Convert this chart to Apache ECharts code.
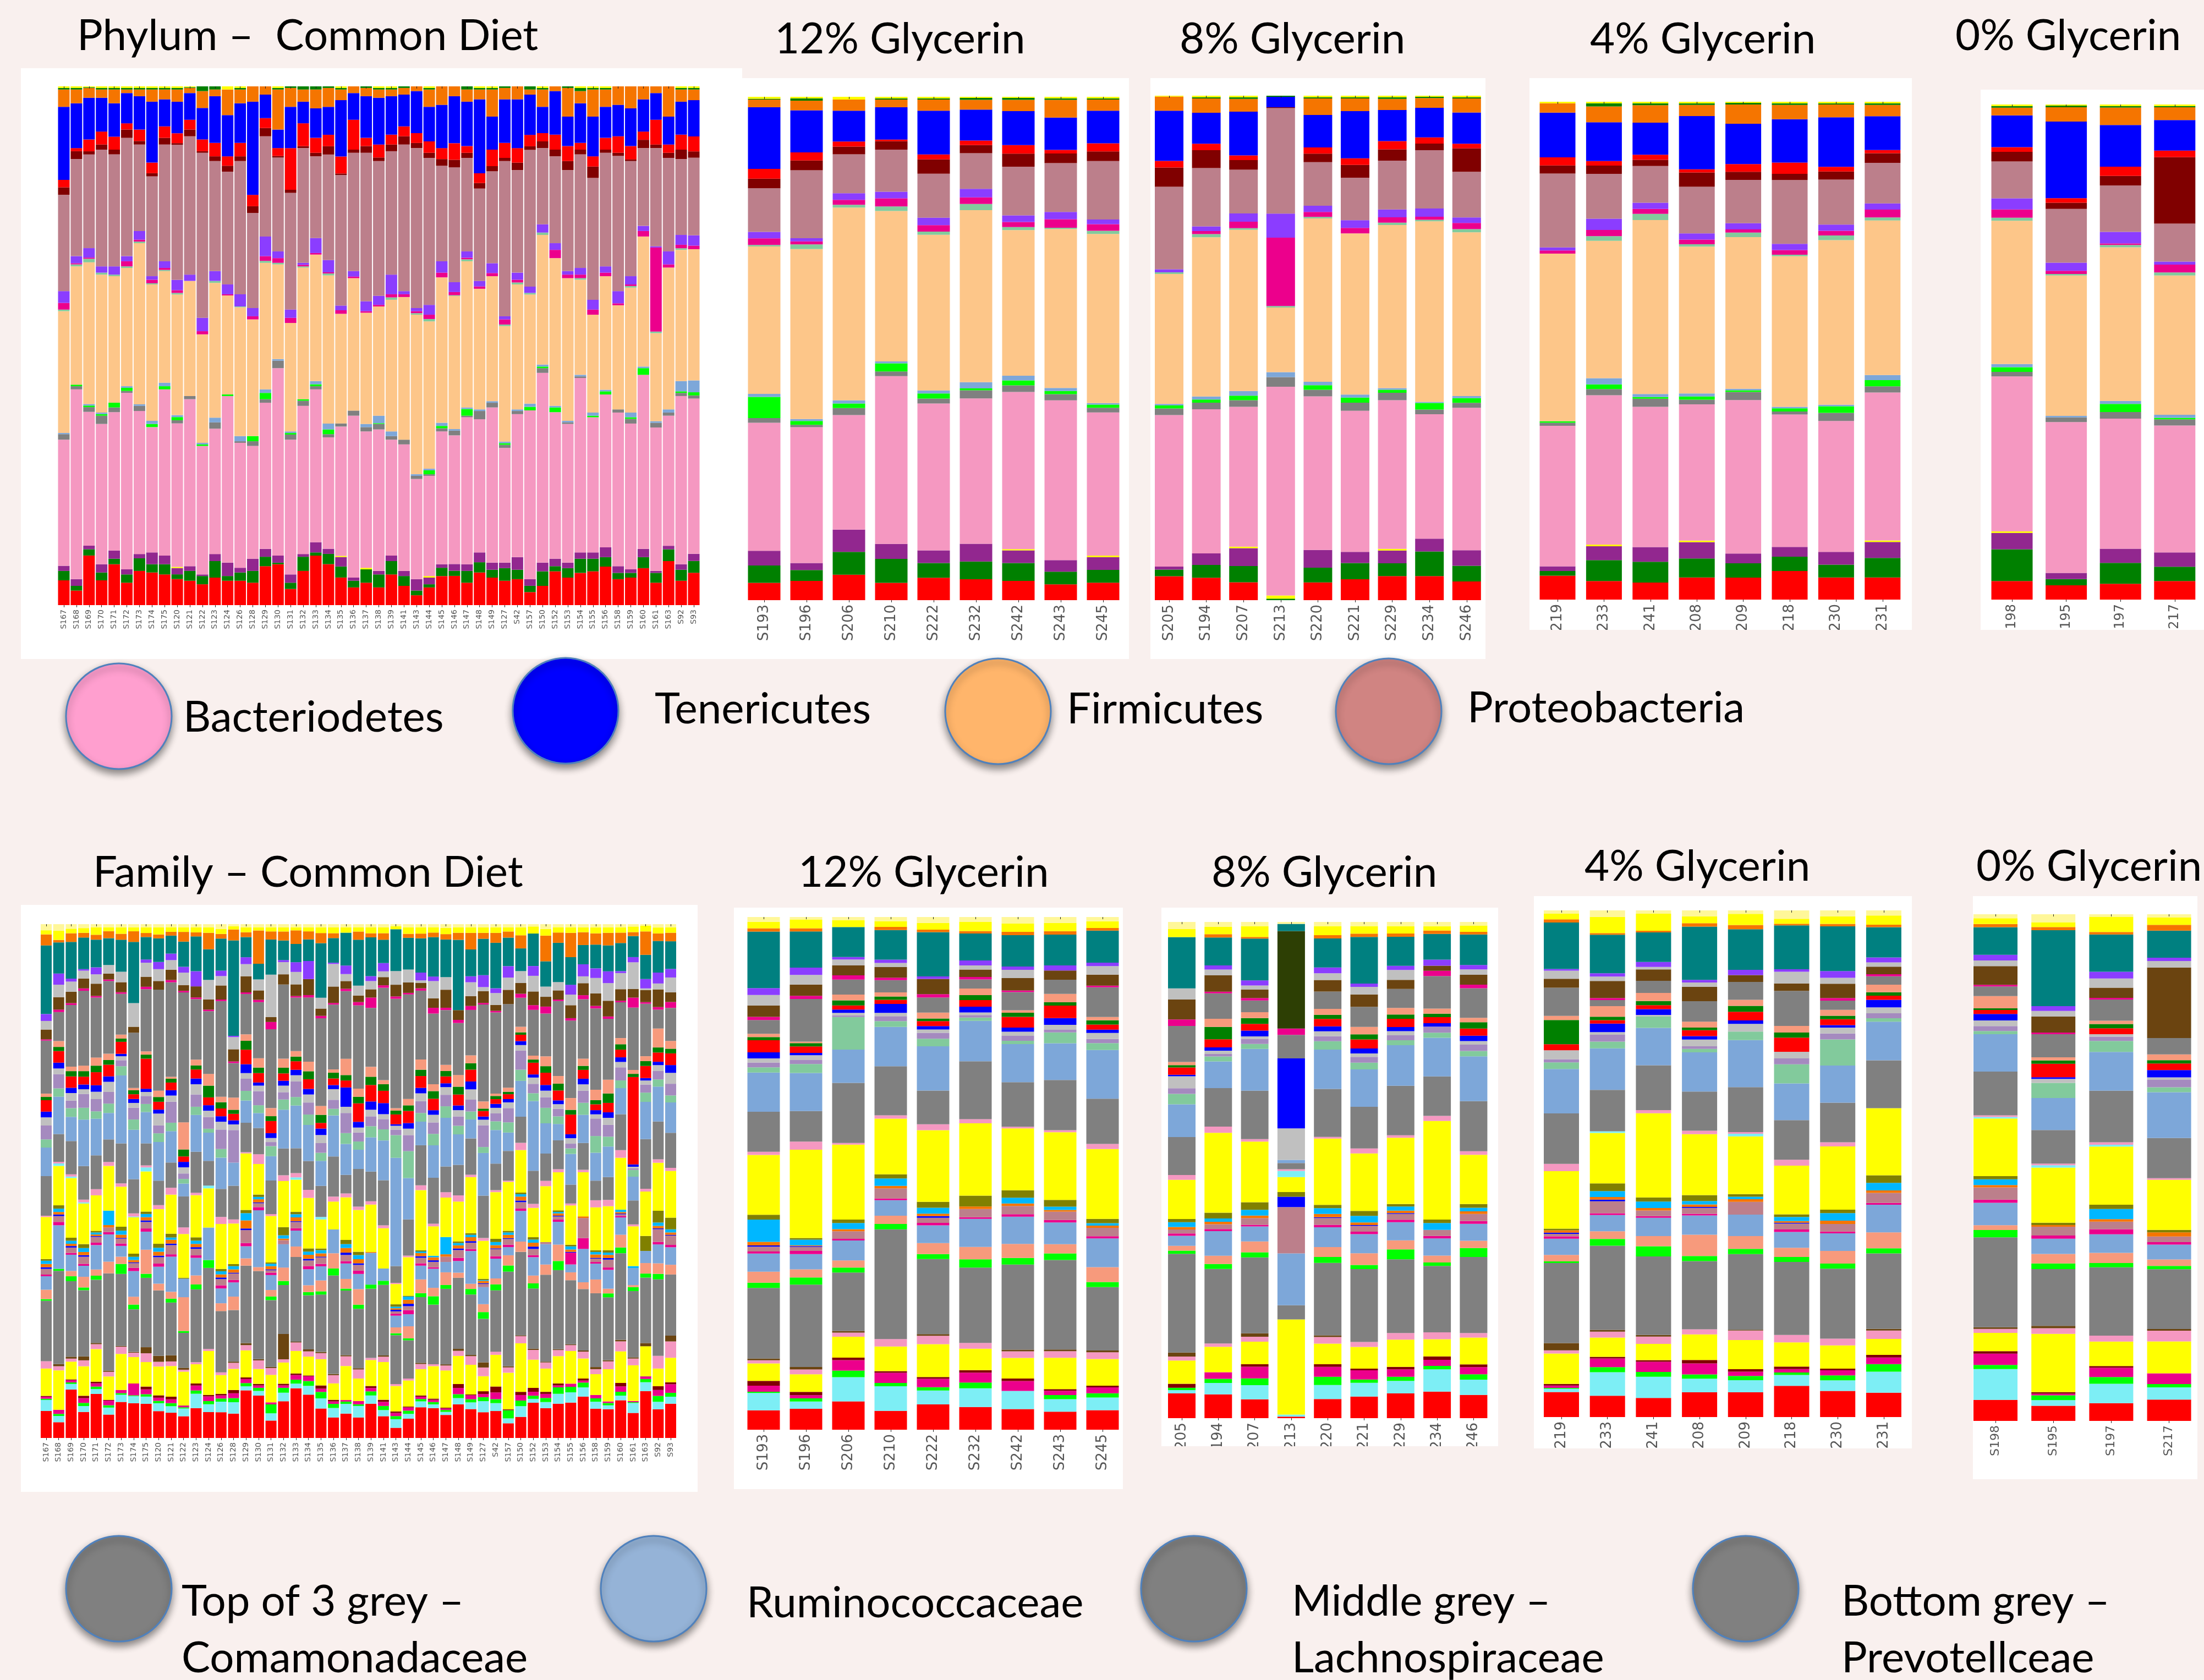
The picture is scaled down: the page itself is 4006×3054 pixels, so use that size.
<!DOCTYPE html>
<html>
<head>
<meta charset="utf-8">
<title>Phylum and Family composition</title>
<script src="https://cdn.jsdelivr.net/npm/echarts@6/dist/echarts.min.js"></script>
<style>
  html, body { margin: 0; padding: 0; background: #f9f0ee; }
  #chart { width: 4006px; height: 3054px; }
</style>
</head>
<body>
<div id="chart"></div>
<script>
// sample labels
const commonSamples = ['S167','S168','S169','S170','S171','S172','S173','S174','S175','S120','S121','S122','S123','S124','S126','S128','S129','S130','S131','S132','S133','S134','S135','S136','S137','S138','S139','S141','S143','S144','S145','S146','S147','S148','S149','S127','S42','S157','S150','S152','S153','S154','S155','S156','S158','S159','S160','S161','S163','S92','S93']
const samples12 = ['S193','S196','S206','S210','S222','S232','S242','S243','S245']
const samples8 = ['S205','S194','S207','S213','S220','S221','S229','S234','S246']
const samples8NoS = ['205','194','207','213','220','221','229','234','246']
const samples4 = ['219','233','241','208','209','218','230','231']
const samples0 = ['S198','S195','S197','S217']

// stack order, bottom to top
const phylumTaxa = ['red','green','purple','yellow','Bacteriodetes','grey','lime','ltblue','Firmicutes','mint','magenta','violet','Proteobacteria','maroon','red2','Tenericutes','orange','green2','yellow2']
const phylumColors = ['#ff0000','#008000','#92278f','#ffff00','#f598c1','#808080','#00ff00','#7da7d9','#fdc689','#82ca9c','#ec008c','#8b3dff','#bc7f8b','#800000','#ff0000','#0000ff','#f57500','#008000','#ffff00']

// one row per sample, relative abundance in phylumTaxa order
const phylumCommon = [
  [63,24,13,0,321,14,0,3,310,4,17,30,245,19,19,186,44,4,4],
  [37,12,17,0,483,8,4,0,301,5,3,18,247,20,8,114,35,4,4],
  [126,16,9,0,340,12,4,4,360,9,3,24,238,8,30,106,25,2,2],
  [63,20,21,0,357,21,4,4,351,5,0,16,297,13,33,86,21,4,4],
  [104,14,21,0,352,12,12,0,322,4,0,21,285,12,33,85,35,4,4],
  [57,21,13,0,449,5,8,4,301,4,13,13,301,21,16,77,9,4,4],
  [87,32,11,0,364,13,0,4,410,4,5,22,220,9,29,85,17,4,4],
  [83,21,30,0,319,0,8,8,347,3,9,9,254,8,27,155,31,4,4],
  [78,26,22,0,423,0,8,9,284,3,5,17,297,17,29,69,25,4,4],
  [66,12,16,3,364,8,8,5,306,4,7,26,343,4,25,80,31,4,4],
  [62,25,12,0,425,8,0,0,293,0,0,16,352,17,25,68,13,2,2],
  [53,21,4,0,327,0,4,4,276,0,8,34,420,4,30,80,43,12,0],
  [70,42,18,0,319,16,0,12,343,5,0,25,280,12,34,119,17,8,0],
  [62,12,34,0,424,0,4,0,252,0,3,25,287,15,24,105,65,0,8],
  [62,21,12,0,318,4,0,13,328,2,0,31,339,12,34,101,35,4,4],
  [57,30,31,0,287,12,13,0,297,0,8,21,242,17,29,237,39,0,0],
  [99,24,20,0,372,9,16,9,322,5,12,50,255,21,25,60,21,0,0],
  [104,4,18,0,477,19,0,4,241,4,12,17,239,4,20,47,102,4,4],
  [41,16,21,0,343,13,4,4,276,0,13,21,297,8,106,105,48,4,0],
  [87,36,7,0,377,13,4,0,335,3,4,5,292,5,58,55,31,8,0],
  [126,8,26,0,389,8,5,8,322,0,4,38,208,9,38,75,48,8,0],
  [104,26,13,0,283,8,12,15,376,5,3,31,268,21,29,71,48,4,0],
  [70,28,24,3,328,8,0,0,278,0,9,12,331,4,43,143,27,4,4],
  [45,17,8,0,412,13,0,0,337,0,4,14,301,8,76,68,17,0,0],
  [57,34,0,4,347,11,0,8,283,0,4,25,378,17,21,106,21,4,0],
  [45,33,9,0,360,14,2,19,278,0,4,23,343,9,33,119,21,4,4],
  [78,34,14,0,295,9,0,12,335,6,8,50,314,17,25,98,17,4,4],
  [49,25,13,0,322,12,0,0,363,0,7,8,373,21,25,81,17,4,0],
  [25,12,29,0,255,8,0,4,406,4,5,8,407,13,25,107,12,0,0],
  [45,8,17,4,255,4,10,4,375,6,11,25,374,13,29,88,44,4,4],
  [74,21,9,0,338,8,6,8,370,0,12,29,243,17,28,110,47,0,0],
  [74,13,17,0,326,12,0,4,337,2,8,25,291,19,42,119,25,0,0],
  [57,30,17,0,374,4,17,4,372,5,4,16,238,13,17,113,31,8,0],
  [83,26,25,0,339,21,0,4,307,0,6,14,235,14,25,188,25,4,4],
  [70,20,18,0,395,12,0,4,318,0,8,25,234,13,42,84,69,4,4],
  [62,32,14,0,292,8,4,4,294,4,13,8,395,8,38,111,29,4,0],
  [66,24,32,0,364,8,0,4,318,5,7,18,261,19,37,124,33,0,0],
  [33,16,17,0,428,0,9,8,277,4,0,16,347,9,29,102,13,8,0],
  [49,37,22,0,483,12,4,5,330,6,0,21,194,17,21,67,44,4,4],
  [86,13,19,0,373,0,12,4,376,0,21,17,221,17,38,111,12,0,0],
  [70,24,14,0,353,4,0,4,363,0,9,9,257,23,38,75,73,4,0],
  [82,36,16,0,444,4,0,4,242,4,9,17,289,12,17,101,31,8,4],
  [86,32,16,0,344,0,4,8,249,0,13,25,310,29,26,101,69,4,4],
  [98,24,25,0,389,0,8,4,289,0,9,16,289,8,30,79,44,4,4],
  [66,16,17,0,391,8,0,0,265,0,5,31,344,8,42,80,47,0,0],
  [70,12,9,0,371,12,4,12,318,4,4,21,293,4,34,96,56,0,0],
  [94,28,21,0,443,0,17,4,331,0,14,13,198,21,21,82,33,0,0],
  [57,25,5,0,365,12,0,4,224,4,214,3,250,9,63,68,17,0,0],
  [112,30,9,0,331,8,0,8,361,0,8,33,238,13,21,71,77,0,0],
  [62,28,14,0,428,8,4,26,334,4,9,25,193,24,38,84,31,4,4],
  [82,30,18,0,394,8,8,30,333,0,9,26,197,16,38,92,27,4,4]
]
const phylum12 = [
  [45,45,38,0,332,12,55,8,382,4,17,17,113,25,25,160,20,2,5],
  [50,28,18,0,352,6,10,5,440,12,8,8,176,25,21,109,25,6,4],
  [66,59,58,0,297,18,12,8,500,7,13,17,101,20,13,80,29,0,7],
  [45,62,39,0,435,12,21,5,390,12,21,17,109,22,4,84,20,3,4],
  [58,38,33,0,380,13,13,8,403,8,17,19,114,37,13,113,29,3,4],
  [54,46,46,0,376,21,5,16,445,16,17,22,92,21,12,80,25,5,3],
  [50,46,33,3,407,17,13,12,377,8,13,17,126,34,22,88,29,5,3],
  [41,33,30,0,415,16,8,8,413,3,22,19,127,25,9,84,46,4,4],
  [45,33,33,4,370,12,8,4,437,8,17,12,151,25,21,84,29,3,4]
]
const phylum8 = [
  [62,17,8,0,393,17,8,4,337,4,0,8,214,50,17,130,37,0,2],
  [58,33,30,0,373,17,8,8,412,8,8,12,151,46,17,80,37,3,4],
  [46,42,46,4,361,17,12,12,416,4,17,21,113,25,12,113,33,4,4],
  [0,4,0,8,540,25,0,13,167,4,177,62,273,2,0,27,0,3,0],
  [46,38,46,0,398,17,12,9,423,4,13,16,113,22,16,84,43,3,4],
  [54,42,29,0,365,21,13,8,417,0,14,20,110,33,17,122,33,3,4],
  [62,33,33,4,383,19,8,4,420,6,14,20,126,29,21,80,29,4,4],
  [62,63,33,0,320,12,17,3,464,4,8,21,150,17,16,76,25,3,3],
  [48,40,40,0,365,13,12,5,420,8,16,14,117,60,12,80,36,3,4]
]
const phylum4 = [
  [62,12,12,0,364,8,4,0,434,0,8,8,191,21,21,116,24,0,4],
  [48,54,36,4,386,16,12,16,355,12,16,29,116,21,12,100,41,8,4],
  [44,54,38,0,363,21,4,8,450,16,13,16,95,16,13,83,45,5,4],
  [57,49,42,4,351,12,8,8,378,6,12,16,120,37,8,137,29,4,4],
  [57,37,25,0,397,21,4,4,392,12,8,16,112,21,20,104,50,4,3],
  [74,37,25,0,342,8,8,4,389,4,12,16,165,16,29,112,37,4,4],
  [57,33,33,0,338,21,17,4,425,12,12,16,116,21,12,128,33,3,4],
  [57,50,41,4,380,16,16,13,397,8,20,16,104,25,8,87,29,4,4]
]
const phylum0 = [
  [48,82,42,4,400,12,12,8,370,8,21,29,95,25,12,82,20,4,4],
  [37,16,16,0,390,12,0,4,363,4,8,21,139,16,12,198,37,4,3],
  [41,54,37,0,337,17,21,8,398,6,4,30,120,25,24,108,45,4,4],
  [48,37,37,0,328,16,4,8,360,8,20,8,98,172,17,79,33,3,4]
]

// stack order, bottom to top
const familyTaxa = ['red','cyan','lime','magenta','darkred','yellow','pink','brown','Prevotellceae','lime2','salmon','ltblue','magenta2','mauve','blue','orange','sky','olive','yellow2','cyan2','pink2','Lachnospiraceae','Ruminococcaceae','mint','lilac','silver','blue2','red2','green','salmon2','Comamonadaceae','magenta3','darkolive','brown2','silver2','violet','teal','orange2','yellow3','pale']
const familyColors = ['#ff0000','#7deef5','#00ff00','#ec008c','#800000','#ffff00','#f598c1','#6b4410','#808080','#00ff00','#f79a7c','#7da7d9','#ec008c','#bc7f8b','#0000ff','#f57500','#00b7ff','#808000','#ffff00','#7deef5','#f598c1','#808080','#7da7d9','#82ca9c','#a58abf','#c0c0c0','#0000ff','#ff0000','#008000','#f79a7c','#808080','#ec008c','#2d3f04','#6b4410','#c0c0c0','#8b3dff','#008080','#f57500','#ffff00','#fff799']

// one row per sample, relative abundance in familyTaxa order
const familyCommon = [
  [66,27,3,5,2,67,18,0, 148,4,23,33,4,14,4,8,8,4, 103,0,3,97,70,20, 34,20,14,28,8,8, 130,3,0,24,21,17,168,27,10,15],
  [38,15,5,10,0,95,10,5, 225,5,0,105,8,14,4,6,8,8, 95,6,4,67,90,20, 34,14,14,28,10,14, 70,6,0,30,30,27,75,6,22,16],
  [128,15,4,6,2,47,8,5, 200,13,14,43,5,14,4,6,8,8, 158,4,6,88,64,23, 20,20,14,30,14,12, 163,5,0,30,27,8,97,23,12,12],
  [66,15,8,12,6,75,15,10, 168,7,27,28,5,18,4,8,10,10, 103,3,7,85,118,30, 35,12,12,20,14,14, 190,6,0,25,20,4,80,12,12,10],
  [108,12,6,8,4,80,12,3, 155,10,15,60,6,14,2,4,5,4, 87,0,15,83,90,18, 30,18,16,32,16,20, 147,4,0,30,23,17,68,12,18,8],
  [60,18,6,12,2,60,12,3, 250,0,30,70,6,12,0,6,37,0, 115,0,10,58,68,24, 30,26,14,30,12,16, 187,4,0,15,22,0,69,18,10,8],
  [90,18,4,8,0,90,18,2, 180,25,18,27,6,12,2,8,10,10, 100,0,8,100,170,23, 15,10,6,30,8,10, 102,4,0,25,26,0,80,15,16,8],
  [88,18,2,30,0,67,11,2, 108,12,20,65,8,12,2,6,8,8, 92,2,8,87,125,26, 30,12,10,12,10,6, 140,0,0,15,60,0,155,27,10,8],
  [85,18,6,12,7,61,22,15, 173,10,60,45,8,16,4,8,8,6, 100,10,5,55,78,20, 20,10,8,75,10,8, 155,6,0,25,35,8,56,10,14,8],
  [68,20,6,8,6,73,12,15, 166,0,17,43,8,16,4,10,10,10, 88,0,10,62,98,22, 20,30,10,20,12,16, 256,0,0,22,30,18,60,10,18,8],
  [66,17,8,10,7,80,12,16, 138,10,18,92,6,24,4,10,6,10, 102,0,18,66,82,22, 55,16,14,20,10,5, 247,6,0,27,25,17,47,10,12,8],
  [56,20,3,4,1,87,5,5, 90,5,87,48,0,0,0,0,0,2, 113,0,17,80,33,12, 14,16,14,14,18,70, 335,4,0,15,32,15,65,25,12,8],
  [73,35,8,12,5,47,5,0, 178,12,22,43,6,16,4,8,8,8, 103,0,6,100,90,20, 30,25,14,22,10,14, 148,4,0,27,0,37,85,10,12,8],
  [66,20,8,12,4,112,5,0, 207,20,0,83,0,0,0,0,0,0, 100,7,0,63,72,10, 30,16,14,20,30,30, 160,4,0,26,50,0,78,42,14,8],
  [66,27,8,8,4,48,7,0, 157,0,20,38,8,16,4,8,8,6, 115,0,18,72,80,22, 50,20,14,20,16,14, 245,4,0,36,24,14,82,12,13,12],
  [60,28,10,12,8,52,15,3, 127,0,33,35,6,16,2,8,8,5, 100,0,10,83,57,0, 80,14,10,16,10,30, 85,4,0,30,30,3,235,27,8,5],
  [118,10,8,10,4,67,13,5, 192,0,18,30,8,32,4,20,18,8, 140,0,3,73,55,24, 30,14,22,36,22,16, 100,4,0,40,30,17,50,12,12,8],
  [108,12,8,6,4,38,22,3, 225,0,10,145,8,10,2,8,6,6, 78,0,25,67,38,20, 36,14,8,24,14,24, 143,6,0,24,28,0,40,85,8,8],
  [43,18,22,5,0,68,17,3, 165,9,16,37,6,6,2,8,6,3, 115,0,5,83,60,25, 10,10,12,30,12,20, 195,18,0,12,105,0,87,20,10,8],
  [90,21,12,6,4,52,8,62, 120,10,33,57,0,10,0,4,8,20, 113,0,14,66,95,25, 18,16,12,18,14,22, 182,0,0,25,30,5,48,22,10,8],
  [128,12,10,12,4,58,22,2, 218,0,27,41,6,16,2,10,8,6, 83,6,11,64,110,22, 40,16,14,22,12,14, 138,4,0,30,32,25,47,35,8,8],
  [108,22,12,12,2,47,13,5, 135,8,17,40,8,14,4,10,8,8, 126,0,20,72,90,26, 30,20,14,24,20,24, 160,6,0,40,0,45,54,20,10,8],
  [73,25,16,8,8,65,15,3, 142,8,27,35,6,16,2,8,8,4, 72,6,0,77,62,20, 24,20,16,14,20,22, 217,6,0,18,27,0,135,25,14,8],
  [50,23,10,6,4,40,20,3, 240,17,37,58,0,0,0,0,0,0, 68,0,12,98,100,16, 22,26,10,16,14,8, 158,4,0,40,55,3,60,12,14,8],
  [63,25,6,4,0,88,25,3, 167,5,25,40,6,16,6,12,10,11, 110,0,10,48,80,28, 52,16,50,18,14,42, 175,6,0,20,18,22,85,0,14,8],
  [50,28,4,8,0,55,22,3, 145,10,38,37,8,14,4,10,10,8, 102,0,8,92,47,20, 22,12,14,45,16,20, 203,8,0,16,24,0,112,20,10,8],
  [83,20,10,8,5,63,5,0, 168,10,0,77,0,0,0,2,0,0, 115,0,8,72,83,27, 24,16,20,40,20,24, 143,25,0,20,20,12,94,10,14,8],
  [53,15,10,10,5,92,13,3, 172,10,0,30,0,0,0,0,0,0, 98,0,7,110,97,27, 25,12,27,30,16,10, 225,6,0,20,14,20,57,16,14,8],
  [26,22,8,8,4,65,5,0, 125,5,15,30,5,6,4,4,4,6, 52,0,3,43,277,58, 14,10,4,25,10,6, 280,6,0,30,35,0,107,0,8,5],
  [48,12,8,8,2,65,5,0, 95,5,30,30,10,10,6,10,8,2, 96,0,4,90,103,67, 40,16,14,30,14,16, 260,4,0,26,32,0,79,10,16,8],
  [78,15,6,6,3,67,13,3, 167,10,35,35,6,14,4,8,4,3, 153,0,12,102,60,22, 30,20,14,30,16,26, 175,6,0,14,6,20,87,12,16,8],
  [78,10,6,6,3,85,5,0, 156,22,22,50,4,14,4,8,4,0, 77,0,7,120,85,30, 30,20,12,30,20,18, 185,15,0,25,45,12,103,12,14,8],
  [60,8,5,4,2,97,13,3, 197,10,33,27,0,14,0,6,45,0, 103,0,14,67,127,30, 30,20,10,18,14,16, 143,6,0,47,33,0,98,14,16,10],
  [86,16,10,16,10,72,13,5, 182,0,13,30,8,20,4,8,6,4, 102,0,16,78,78,22, 24,16,12,28,20,30, 133,8,0,25,0,0,180,18,14,8],
  [73,17,8,10,2,75,22,3, 153,14,13,83,5,16,4,10,6,4, 142,0,6,92,48,20, 30,26,20,30,16,20, 115,10,0,25,35,15,68,42,14,8],
  [65,28,10,8,7,38,22,13, 110,17,20,43,0,8,2,6,2,3, 96,0,7,107,108,15, 55,14,8,14,6,18, 245,4,0,30,10,30,92,15,14,8],
  [68,20,10,17,15,80,8,0, 155,15,15,50,6,18,2,8,8,8, 118,0,5,67,85,22, 20,14,10,12,8,6, 205,4,0,15,30,12,115,25,14,8],
  [36,12,20,0,2,90,13,3, 232,15,25,20,6,14,2,8,6,4, 120,0,3,73,45,25, 35,14,8,12,6,10, 205,0,0,35,30,28,70,15,10,8],
  [53,27,14,14,8,122,18,2, 210,0,26,77,6,16,4,10,6,4, 107,0,18,66,90,28, 48,14,10,16,6,14, 73,10,0,27,30,0,57,33,20,8],
  [90,10,8,10,10,72,25,3, 154,13,20,47,5,16,6,10,8,6, 75,0,10,85,178,20, 24,16,8,30,8,10, 117,12,0,35,40,25,83,0,18,6],
  [73,15,10,10,5,57,15,2, 213,0,25,50,0,5,0,0,0,0, 137,0,13,67,74,38, 26,16,14,30,16,24, 105,17,0,24,25,0,62,63,16,12],
  [90,26,17,5,5,72,16,2, 208,24,43,60,6,8,2,6,4,4, 100,0,8,76,43,20, 20,12,10,26,18,20, 197,4,0,24,22,0,103,27,14,8],
  [90,26,14,8,0,83,15,2, 163,0,20,20,30,0,2,6,8,4, 100,0,5,48,78,14, 12,14,10,50,12,30, 197,6,0,33,27,25,70,62,14,8],
  [103,23,12,5,5,50,17,3, 153,0,17,83,27,50,0,4,0,0, 110,0,6,67,70,30, 30,16,14,22,10,18, 148,10,0,30,17,30,48,32,12,8],
  [70,17,8,8,0,50,12,5, 177,0,33,38,4,8,2,8,6,4, 103,0,17,47,67,40, 42,10,10,14,10,25, 195,6,0,30,37,23,57,27,14,8],
  [73,10,6,4,0,82,20,3, 160,10,12,48,6,20,4,8,6,6, 112,0,16,58,78,25, 30,18,14,24,24,35, 155,6,0,40,45,30,66,32,14,8],
  [98,12,10,14,9,82,26,4, 225,15,33,45,4,4,2,4,6,0, 135,0,20,93,68,20, 34,14,12,20,14,16, 93,4,0,30,42,5,73,27,14,8],
  [63,25,2,3,0,90,17,3, 167,10,5,43,0,0,0,0,5,0, 100,0,5,60,60,17, 4,4,6,220,8,10, 157,25,0,22,67,13,53,10,14,6],
  [116,22,8,6,1,74,0,8, 162,10,26,30,0,0,0,0,0,37, 110,0,7,123,92,23, 20,10,6,30,12,12, 130,4,0,30,4,23,60,58,14,4],
  [68,18,14,14,9,42,30,0, 182,13,25,45,6,30,2,6,8,28, 114,0,8,90,83,17, 20,14,8,22,12,45, 45,6,0,42,14,26,75,18,14,8],
  [88,18,10,22,5,63,42,15, 157,0,25,45,6,24,2,6,8,30, 120,0,8,90,78,18, 30,28,20,30,12,20, 85,15,0,25,38,22,71,22,14,8]
]
const family12 = [
  [48,43,3,15,12,43,8,4, 175,13,27,45,5,12,3,9,55,12, 148,0,8,99,97,13, 12,10,15,30,8,8, 34,8,0,28,26,17,140,8,16,12],
  [52,18,8,8,8,44,12,6, 205,18,20,38,8,10,2,2,14,4, 220,0,20,76,95,22, 10,12,6,16,8,4, 106,8,0,28,24,18,90,8,22,6],
  [68,58,16,25,6,50,10,4, 140,12,17,48,4,18,0,5,15,8, 180,0,4,144,80,78, 4,6,8,10,12,14, 36,10,0,24,14,6,72,0,16,8],
  [46,60,8,25,4,60,18,0, 268,13,20,38,4,25,0,6,18,10, 136,0,8,120,96,14, 12,8,22,10,8,10, 30,6,0,26,10,8,72,8,14,10],
  [60,33,8,20,4,78,20,4, 178,12,26,42,6,12,4,6,14,14, 170,0,14,80,105,18, 14,8,8,12,6,14, 36,8,0,36,0,6,105,6,16,14],
  [55,45,14,24,6,52,14,0, 182,20,30,68,4,20,0,6,0,26, 175,0,10,140,98,8, 6,6,14,16,12,16, 22,6,0,18,10,12,65,6,22,12],
  [50,44,0,24,6,50,16,4, 206,16,34,66,6,20,0,6,14,18, 150,0,4,108,92,8, 12,10,10,26,10,6, 44,4,0,30,20,8,76,8,20,16],
  [43,30,10,10,4,75,16,4, 214,16,22,52,6,20,0,4,8,16, 162,0,5,120,88,26, 6,12,16,30,8,20, 34,0,0,22,0,12,74,8,20,14],
  [46,30,10,14,4,63,16,4, 150,12,35,68,5,20,0,5,6,10, 165,0,12,107,115,16, 10,14,8,12,10,8, 70,4,0,26,20,8,76,6,16,10]
]
const family8 = [
  [62,8,6,0,10,58,10,10, 247,8,12,25,6,10,0,6,12,8, 98,0,12,95,82,26, 14,30,4,18,6,8, 90,16,0,50,28,0,128,0,20,18],
  [58,28,10,16,0,62,8,0, 182,12,20,60,5,12,0,6,8,14, 195,0,15,94,65,12, 6,8,8,20,30,20, 62,4,0,40,14,10,68,8,18,12],
  [45,34,16,28,6,54,12,8, 182,12,26,36,4,16,0,6,14,18, 145,0,6,116,100,12, 12,6,14,16,14,14, 28,6,0,20,10,12,100,4,26,10],
  [4,5,0,0,0,242,0,0, 36,0,0,132,0,118,26,0,0,12, 38,16,4,16,8,0, 0,80,178,0,0,0, 60,16,248,0,0,0,18,0,0,5],
  [46,34,20,24,6,50,16,4, 175,14,24,48,6,16,2,8,14,8, 160,0,4,116,95,20, 12,12,12,18,10,14, 42,0,0,28,16,14,70,8,22,10],
  [52,33,8,22,4,52,12,0, 175,10,28,46,6,14,2,6,16,12, 138,0,12,100,90,16, 14,8,12,22,12,18, 48,0,0,30,18,8,112,8,18,10],
  [60,30,10,18,6,66,16,0, 178,24,22,44,6,14,2,6,10,6, 160,0,6,120,98,12, 12,10,10,20,10,16, 46,0,0,22,24,10,70,8,18,10],
  [62,52,8,14,8,40,16,0, 155,8,16,40,6,14,0,0,16,8, 230,0,12,92,90,12, 14,0,8,14,8,12, 76,12,0,12,0,14,60,8,10,10],
  [52,34,12,16,6,60,10,0, 170,20,16,38,6,16,0,6,8,8, 110,0,8,112,100,12, 14,8,12,16,14,10, 66,8,0,22,12,10,68,6,14,8]
]
const family4 = [
  [62,8,2,6,4,75,8,18, 198,4,16,40,6,6,3,6,0,4, 142,0,18,125,110,16, 8,22,0,15,60,10, 70,0,0,22,20,4,115,8,14,8],
  [50,55,12,20,4,45,14,4, 197,16,18,38,4,28,4,6,14,18, 118,4,0,97,97,16, 16,6,20,8,8,25, 14,5,0,40,10,8,90,4,38,15],
  [47,52,12,25,4,40,18,4, 193,25,25,45,4,14,0,6,16,10, 207,0,8,110,92,28, 0,4,14,10,10,20, 30,0,0,28,6,12,73,4,42,8],
  [58,32,10,26,8,60,12,0, 160,12,50,45,4,14,2,6,8,14, 143,0,8,92,92,8, 6,16,8,14,6,14, 48,0,0,34,10,6,125,8,16,14],
  [58,28,10,10,6,68,22,2, 177,12,30,50,0,30,0,6,6,6, 135,6,4,105,110,20, 0,18,8,20,14,14, 42,0,0,16,0,12,95,10,26,8],
  [75,26,6,8,6,58,18,0, 175,12,22,38,6,14,2,4,10,6, 117,0,14,95,88,46, 14,16,0,34,12,16, 84,0,0,18,28,6,105,4,12,20],
  [62,25,12,12,4,55,16,0, 166,12,30,42,4,18,0,8,18,8, 150,0,10,94,88,62, 14,14,6,14,8,14, 22,6,0,34,14,16,106,6,18,14],
  [58,50,18,16,6,38,20,4, 180,12,38,66,4,24,0,6,18,18, 160,0,0,114,92,8, 12,14,18,10,8,18, 20,5,0,18,10,12,72,6,22,12]
]
const family0 = [
  [52,76,10,28,6,45,10,4, 222,18,12,55,8,30,0,6,14,8, 142,4,4,108,92,8, 12,14,16,10,4,30, 24,4,0,46,14,14,68,8,14,10],
  [38,14,12,4,4,146,14,6, 142,14,24,38,8,22,0,4,0,6, 138,6,4,84,80,38, 0,10,4,34,8,8, 58,4,0,40,14,12,190,8,12,20],
  [42,46,16,22,4,58,14,0, 162,10,24,44,12,18,0,6,24,10, 138,4,6,122,92,26, 10,6,0,14,10,8, 50,4,0,24,22,16,88,6,36,6],
  [52,30,8,26,0,78,26,4, 146,8,16,36,6,14,0,10,0,6, 122,0,4,98,112,12, 18,6,18,16,8,14, 40,0,0,172,16,8,66,14,18,8]
]

const panels = [
  { title: 'Phylum –  Common Diet', kind: 'phylum', samples: commonSamples, rows: phylumCommon },
  { title: '12% Glycerin', kind: 'phylum', samples: samples12, rows: phylum12 },
  { title: '8% Glycerin', kind: 'phylum', samples: samples8, rows: phylum8 },
  { title: '4% Glycerin', kind: 'phylum', samples: samples4, rows: phylum4 },
  { title: '0% Glycerin', kind: 'phylum', samples: samples0, rows: phylum0 },
  { title: 'Family – Common Diet', kind: 'family', samples: commonSamples, rows: familyCommon },
  { title: '12% Glycerin', kind: 'family', samples: samples12, rows: family12 },
  { title: '8% Glycerin', kind: 'family', samples: samples8NoS, rows: family8 },
  { title: '4% Glycerin', kind: 'family', samples: samples4, rows: family4 },
  { title: '0% Glycerin', kind: 'family', samples: samples0, rows: family0 }
]

// layout in page pixels, same order as panels
const layout = [
  { box: [38, 124, 1311, 1074], x0: 116, step: 22.9, barW: 21, top: 157, bottom: 1100, tx: 140, ty: 66, font: 14, margin: 8 },
  { box: [1349, 142, 703, 1056], x0: 1389, step: 77, barW: 59, top: 176, bottom: 1091, tx: 1408, ty: 72, font: 26, margin: 8 },
  { box: [2091, 142, 609, 1056], x0: 2125, step: 67.6, barW: 52, top: 174, bottom: 1091, tx: 2144, ty: 72, font: 26, margin: 8 },
  { box: [2780, 142, 695, 1003], x0: 2831, step: 84.4, barW: 65, top: 185, bottom: 1090, tx: 2890, ty: 72, font: 26, margin: 8, clip: 1145 },
  { box: [3600, 163, 406, 982], x0: 3657, step: 98.6, barW: 75, top: 190, bottom: 1090, tx: 3554, ty: 66, font: 24, margin: 8, clip: 1145 },
  { box: [38, 1645, 1230, 1067], x0: 84, step: 22.7, barW: 20, top: 1680, bottom: 2614, tx: 169, ty: 1587, font: 14, margin: 8 },
  { box: [1334, 1650, 707, 1057], x0: 1388, step: 77, barW: 59, top: 1667, bottom: 2599, tx: 1451, ty: 1587, font: 26, margin: 8 },
  { box: [2111, 1650, 612, 979], x0: 2148, step: 66.3, barW: 50, top: 1676, bottom: 2578, tx: 2202, ty: 1587, font: 26, margin: 8, clip: 2629 },
  { box: [2788, 1629, 687, 1004], x0: 2838, step: 83.7, barW: 64, top: 1655, bottom: 2576, tx: 2880, ty: 1576, font: 26, margin: 8, clip: 2633 },
  { box: [3586, 1629, 408, 1060], x0: 3627, step: 105.2, barW: 80, top: 1662, bottom: 2583, tx: 3592, ty: 1576, font: 22, margin: 8 }
]

const legendCircles = [
  { cx: 216, cy: 1302, fill: '#ff9fcf' },
  { cx: 1028, cy: 1292, fill: '#0000ff' },
  { cx: 1814, cy: 1293, fill: '#ffb56b' },
  { cx: 2524, cy: 1293, fill: '#d08482' },
  { cx: 216, cy: 2888, fill: '#808080' },
  { cx: 1188, cy: 2888, fill: '#95b3d7' },
  { cx: 2170, cy: 2888, fill: '#808080' },
  { cx: 3173, cy: 2888, fill: '#808080' }
]
const legendTexts = [
  { text: 'Bacteriodetes', x: 333, y: 1305 },
  { text: 'Tenericutes', x: 1190, y: 1290 },
  { text: 'Firmicutes', x: 1939, y: 1290 },
  { text: 'Proteobacteria', x: 2667, y: 1288 },
  { text: 'Top of 3 grey –', x: 330, y: 2912 },
  { text: 'Comamonadaceae', x: 330, y: 3015 },
  { text: 'Ruminococcaceae', x: 1357, y: 2915 },
  { text: 'Middle grey –', x: 2348, y: 2912 },
  { text: 'Lachnospiraceae', x: 2348, y: 3015 },
  { text: 'Bottom grey –', x: 3347, y: 2912 },
  { text: 'Prevotellceae', x: 3347, y: 3015 }
]

const textStyle = (text, x, y, size) => ({
  type: 'text',
  z: 200,
  style: { text, x, y, fill: '#000', fontSize: size, fontFamily: 'Lato', verticalAlign: 'middle' }
})

const grids = []
const xAxes = []
const yAxes = []
const series = []
const graphics = []

panels.forEach((panel, p) => {
  const l = layout[p]
  const taxa = panel.kind === 'phylum' ? phylumTaxa : familyTaxa
  const colors = panel.kind === 'phylum' ? phylumColors : familyColors

  graphics.push({
    type: 'rect',
    z: 0,
    shape: { x: l.box[0], y: l.box[1], width: l.box[2], height: l.box[3] },
    style: { fill: '#fff' }
  })
  graphics.push(textStyle(panel.title, l.tx, l.ty, 78))

  // tick labels of these panels run off the white box in the reference
  if (l.clip) {
    graphics.push({
      type: 'rect',
      z: 100,
      shape: { x: l.box[0], y: l.clip, width: l.box[2], height: 80 },
      style: { fill: '#f9f0ee' }
    })
  }

  grids.push({
    left: l.x0 - l.step / 2,
    width: l.step * panel.samples.length,
    top: l.top,
    height: l.bottom - l.top
  })

  xAxes.push({
    type: 'category',
    gridIndex: p,
    data: panel.samples,
    z: 10,
    axisLine: { show: false },
    axisTick: { show: true, alignWithLabel: true, length: 4, lineStyle: { color: '#222', width: 1 } },
    axisLabel: {
      interval: 0,
      rotate: 90,
      margin: l.margin,
      fontSize: l.font,
      color: '#555',
      fontFamily: 'DejaVu Sans'
    }
  })
  xAxes.push({
    type: 'category',
    gridIndex: p,
    position: 'top',
    data: panel.samples,
    z: 10,
    axisLine: { show: false },
    axisTick: { show: true, inside: true, alignWithLabel: true, length: 4, lineStyle: { color: '#222', width: 1 } },
    axisLabel: { show: false }
  })
  yAxes.push({ type: 'value', gridIndex: p, min: 0, max: 100, show: false, splitLine: { show: false } })

  const totals = panel.rows.map(r => r.reduce((a, b) => a + b, 0))
  taxa.forEach((name, t) => {
    series.push({
      name,
      type: 'bar',
      stack: 'panel' + p,
      xAxisIndex: p * 2,
      yAxisIndex: p,
      barWidth: l.barW,
      silent: true,
      animation: false,
      itemStyle: { color: colors[t] },
      data: panel.rows.map((r, i) => (r[t] || 0) / totals[i] * 100)
    })
  })
})

legendCircles.forEach(c => {
  graphics.push({
    type: 'circle',
    z: 150,
    shape: { cx: c.cx, cy: c.cy, r: 96 },
    style: {
      fill: c.fill,
      stroke: '#4f81bd',
      lineWidth: 3,
      shadowBlur: 14,
      shadowOffsetY: 7,
      shadowColor: 'rgba(0,0,0,0.45)'
    }
  })
})
legendTexts.forEach(t => graphics.push(textStyle(t.text, t.x, t.y, 78)))

const chart = echarts.init(document.getElementById('chart'))
chart.setOption({
  backgroundColor: '#f9f0ee',
  animation: false,
  grid: grids,
  xAxis: xAxes,
  yAxis: yAxes,
  series,
  graphic: { elements: graphics }
})
</script>
</body>
</html>
